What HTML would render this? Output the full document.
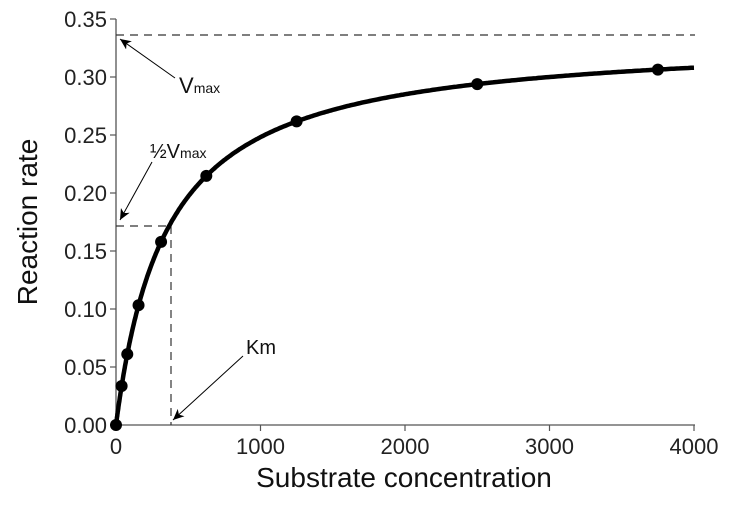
<!DOCTYPE html>
<html><head><style>html,body{margin:0;padding:0;background:#fff}</style></head>
<body>
<svg width="732" height="512" xmlns="http://www.w3.org/2000/svg" font-family="Liberation Sans, DejaVu Sans, sans-serif">
<defs><marker id="ah" markerWidth="12" markerHeight="10" refX="11" refY="5" orient="auto" markerUnits="userSpaceOnUse"><path d="M0,0 L11,5 L0,10 L3,5 Z" fill="#000"/></marker></defs>
<g stroke="#555" stroke-width="1.3" fill="none">
<line x1="116" y1="19" x2="116" y2="425"/>
<line x1="116" y1="425" x2="695" y2="425"/>
</g>
<g stroke="#555" stroke-width="1.2" id="ticks"></g>
<g font-size="22" fill="#222" text-anchor="end" id="ylab"></g>
<g font-size="22" fill="#222" text-anchor="middle" id="xlab"></g>
<g stroke="#333" stroke-width="1.2" stroke-dasharray="8,6" fill="none">
<line x1="116" y1="35" x2="695" y2="35"/>
<line x1="116" y1="226" x2="171" y2="226"/>
<line x1="171" y1="226" x2="171" y2="425"/>
</g>
<path id="curve" fill="none" stroke="#000" stroke-width="4.5"/>
<g id="dots" fill="#000"></g>
<g stroke="#000" stroke-width="1" fill="none">
<line x1="175" y1="78" x2="120" y2="39" marker-end="url(#ah)"/>
<line x1="152" y1="162" x2="120" y2="220" marker-end="url(#ah)"/>
<line x1="243" y1="356" x2="173" y2="420" marker-end="url(#ah)"/>
</g>
<text x="179" y="93" font-size="22" fill="#111">V<tspan font-size="14">max</tspan></text>
<text x="150" y="158" font-size="20" fill="#111">½V<tspan font-size="14">max</tspan></text>
<text x="246" y="354" font-size="20" fill="#111">Km</text>
<text x="404" y="487" font-size="28" fill="#111" text-anchor="middle">Substrate concentration</text>
<text transform="translate(37,222) rotate(-90)" font-size="28" fill="#111" text-anchor="middle">Reaction rate</text>
</svg>
<script>
var X=function(s){return 116+s*0.1445},Y=function(v){return 425-v*1160};
var V=0.335,K=350,d="";
for(var i=0;i<=400;i++){var s=i*i/400*4000/400;var v=V*s/(K+s);d+=(i?"L":"M")+X(s).toFixed(1)+","+Y(v).toFixed(1);}
document.getElementById("curve").setAttribute("d",d);
var dots="";[0,39,78,156,312,625,1250,2500,3750].forEach(function(s){dots+='<circle cx="'+X(s)+'" cy="'+Y(V*s/(K+s))+'" r="6"/>';});
document.getElementById("dots").innerHTML=dots;
var t="",yl="",xl="";
for(var k=0;k<=7;k++){var y=425-k*58;t+='<line x1="110" y1="'+y+'" x2="116" y2="'+y+'"/>';yl+='<text x="107" y="'+(y+8)+'">'+(k*0.05).toFixed(2)+'</text>';}
for(var k=0;k<=4;k++){var x=X(k*1000);t+='<line x1="'+x+'" y1="425" x2="'+x+'" y2="431"/>';xl+='<text x="'+x+'" y="454">'+(k*1000)+'</text>';}
document.getElementById("ticks").innerHTML=t;document.getElementById("ylab").innerHTML=yl;document.getElementById("xlab").innerHTML=xl;
</script>
</body></html>
